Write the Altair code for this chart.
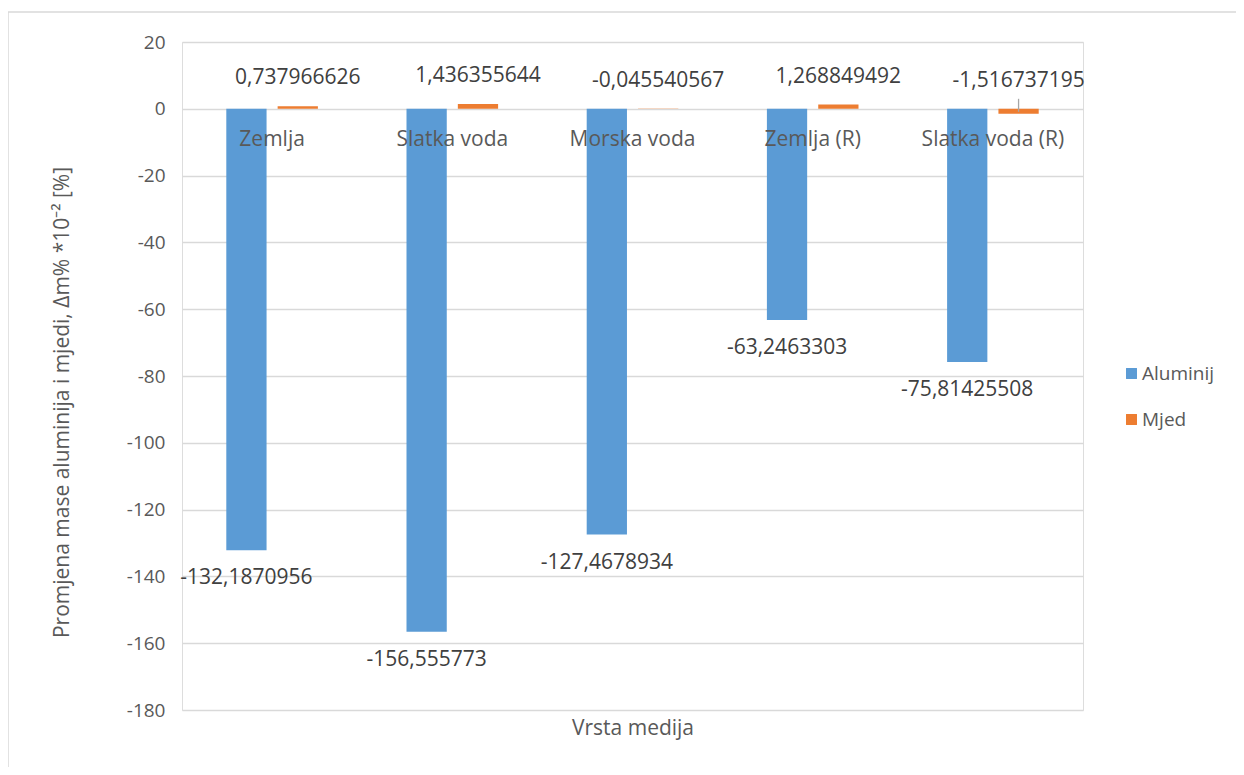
import altair as alt
import pandas as pd

categories = ["Zemlja", "Slatka voda", "Morska voda", "Zemlja (R)", "Slatka voda (R)"]
series = ["Aluminij", "Mjed"]
aluminij = [-132.1870956, -156.555773, -127.4678934, -63.2463303, -75.81425508]
mjed = [0.737966626, 1.436355644, -0.045540567, 1.268849492, -1.516737195]
y_ticks = [20, 0, -20, -40, -60, -80, -100, -120, -140, -160, -180]

rows = []
for c, a, m in zip(categories, aluminij, mjed):
    rows.append({"cat": c, "ser": "Aluminij", "val": a, "ly": a,
                 "lbl": repr(a).replace(".", ",")})
    rows.append({"cat": c, "ser": "Mjed", "val": m, "ly": max(m, 0.0),
                 "lbl": repr(m).replace(".", ",")})
df = pd.DataFrame(rows)
cat_df = pd.DataFrame({"cat": categories})
leader_df = df[(df["ser"] == "Mjed") & (df["val"] < -1)]

FONT = "Open Sans"
GRAY = "#595959"

xscale = alt.Scale(domain=categories, paddingInner=0, paddingOuter=0)
xoff_scale = alt.Scale(domain=series, paddingInner=0.2157, paddingOuter=0.863)
yscale = alt.Scale(domain=[-180, 20], nice=False, zero=False)

x_enc = alt.X("cat:N", scale=xscale, sort=categories,
              axis=alt.Axis(labels=False, ticks=False, domain=False, grid=False,
                            title="Vrsta medija", titleFont=FONT, titleFontSize=21,
                            titleFontWeight="normal", titleColor=GRAY, titlePadding=7))
y_enc = alt.Y("val:Q", scale=yscale,
              axis=alt.Axis(values=y_ticks, grid=True, gridColor="#D9D9D9", gridWidth=1.3,
                            domain=False, ticks=False, tickSize=0, labelPadding=17,
                            labelExpr="'' + datum.value",
                            labelFont=FONT, labelFontSize=19, labelColor=GRAY,
                            title="Promjena mase aluminija i mjedi, Δm% *10⁻² [%]",
                            titleFont=FONT, titleFontSize=21, titleFontWeight="normal",
                            titleColor=GRAY, titleX=-120, titleY=360,
                            titleAlign="center", titleBaseline="middle", titleAngle=-90))

color_enc = alt.Color("ser:N", scale=alt.Scale(domain=series, range=["#5B9BD5", "#ED7D31"]),
                      legend=alt.Legend(title=None, orient="none", legendX=940, legendY=322,
                                        symbolType="square", symbolSize=120, symbolStrokeWidth=0,
                                        labelFont=FONT, labelFontSize=19, labelColor=GRAY,
                                        rowPadding=26, labelOffset=1))

bars = alt.Chart(df).mark_bar().encode(
    x=x_enc,
    xOffset=alt.XOffset("ser:N", scale=xoff_scale),
    y=y_enc,
    y2=alt.datum(0),
    color=color_enc,
)

lbl_al = alt.Chart(df[df["ser"] == "Aluminij"]).mark_text(
    font=FONT, fontSize=21, color="#404040", dy=28, baseline="middle"
).encode(
    x=alt.X("cat:N", scale=xscale, sort=categories),
    xOffset=alt.XOffset("ser:N", scale=xoff_scale),
    y=alt.Y("ly:Q", scale=yscale),
    text="lbl:N",
)

lbl_mj = alt.Chart(df[df["ser"] == "Mjed"]).mark_text(
    font=FONT, fontSize=21, color="#404040", dy=-28, baseline="middle"
).encode(
    x=alt.X("cat:N", scale=xscale, sort=categories),
    xOffset=alt.XOffset("ser:N", scale=xoff_scale),
    y=alt.Y("ly:Q", scale=yscale),
    text="lbl:N",
)

leader = alt.Chart(leader_df).mark_rule(color="#A6A6A6", strokeWidth=1.3, yOffset=-10, y2Offset=3).encode(
    x=alt.X("cat:N", scale=xscale, sort=categories),
    xOffset=alt.XOffset("ser:N", scale=xoff_scale),
    y=alt.datum(0),
    y2=alt.datum(0),
)

cat_labels = alt.Chart(cat_df).mark_text(
    font=FONT, fontSize=21, color=GRAY, dy=31, baseline="middle"
).encode(
    x=alt.X("cat:N", scale=xscale, sort=categories),
    y=alt.datum(0),
    text="cat:N",
)

border = alt.Chart(pd.DataFrame({"a": [0]})).mark_rect(
    filled=False, stroke="#D9D9D9", strokeWidth=1.5
).encode(
    x=alt.value(-174), x2=alt.value(1300), y=alt.value(-30), y2=alt.value(900)
)

chart = alt.layer(border, bars, leader, lbl_al, lbl_mj, cat_labels).properties(
    width=901, height=668,
    autosize=alt.AutoSizeParams(type="none"),
    padding={"left": 174, "top": 34, "right": 153, "bottom": 57},
).configure_view(stroke=None).configure(background="white")

chart.save("out.html", embed_options={"renderer": "svg", "actions": False})
